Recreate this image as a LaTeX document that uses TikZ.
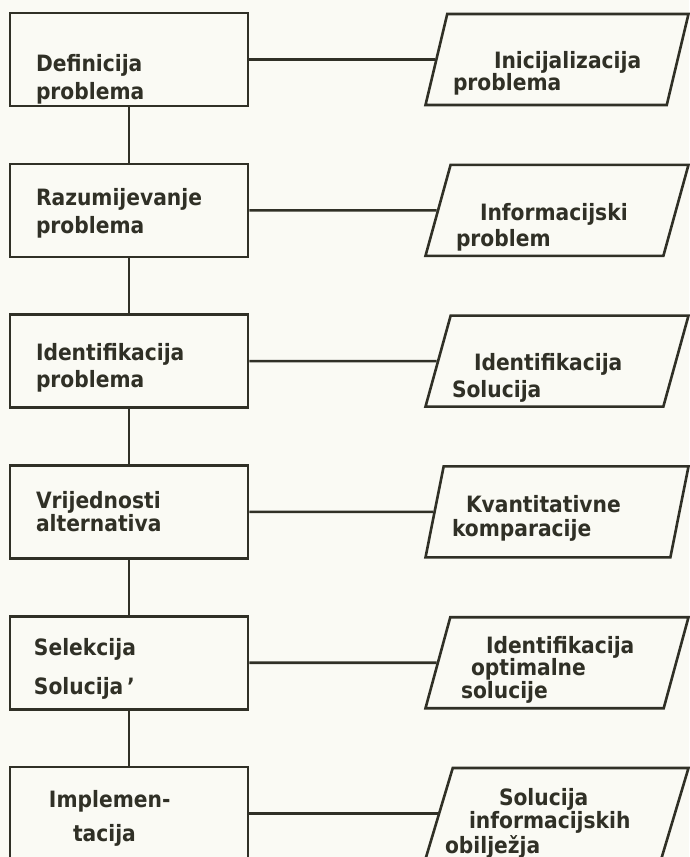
\documentclass[tikz,border=0pt]{standalone}
\usepackage{fontspec}
\setmainfont{DejaVu Sans Condensed}[BoldFont={DejaVu Sans Condensed Bold}]
\usetikzlibrary{shapes.geometric}

\definecolor{ink}{RGB}{48,48,38}
\definecolor{paper}{RGB}{250,250,244}

\begin{document}
\begin{tikzpicture}[x=1pt,y=1pt,color=ink,line width=2.6pt,node distance=150.8pt,
  every node/.style={font=\bfseries\fontsize{22.5}{21}\selectfont},
  box/.style={rectangle,draw,align=left,text width=186pt,inner xsep=26pt,
    inner ysep=0pt,minimum height=93pt,text height=27.5pt},
  data/.style={trapezium,draw,trapezium left angle=73,trapezium right angle=107,
    trapezium stretches body=true,align=left,text width=206pt,inner xsep=0pt,
    inner ysep=0pt,minimum width=263pt,minimum height=91pt,text height=27.5pt}]

  \fill[paper] (0,0) rectangle (689,-857);
  \useasboundingbox (0,0) rectangle (689,-857);

  \node[box,text height=57.5pt] (B1) at (129,-59.5) {Definicija\\[5pt]problema};
  \node[box,text height=23.5pt] (B2) [below of=B1] {Razumijevanje\\[5pt]problema};
  \node[box,text height=30.5pt] (B3) [below of=B2] {Identifikacija\\[5pt]problema};
  \node[box,text height=16.5pt] (B4) [below of=B3] {Vrijednosti\\[1pt]alternativa};
  \node[box,text height=28.5pt] (B5) [below of=B4] {\hspace*{-2pt}Selekcija\\[16pt]\hspace*{-2pt}Solucija\,'};
  \node[box,text height=26.5pt] (B6) [below of=B5] {\hspace*{13pt}Implemen-\\[11pt]\hspace*{37pt}tacija};

  \node[data,text height=44.5pt] (D1) [node distance=428pt,right of=B1] {\hspace*{40pt}Inicijalizacija\\[-1pt]\hspace*{-1pt}problema};
  \node[data,text height=51.5pt] (D2) [node distance=428pt,right of=B2] {\hspace*{26pt}Informacijski\\[3pt]\hspace*{2pt}problem};
  \node[data,text height=50.5pt] (D3) [node distance=428pt,right of=B3] {\hspace*{20pt}Identifikacija\\[4pt]\hspace*{-2pt}Solucija};
  \node[data,text height=30.5pt] (D4) [node distance=428pt,right of=B4] {\hspace*{12pt}Kvantitativne\\[3pt]\hspace*{-2pt}komparacije};
  \node[data,text height=31.5pt] (D5) [node distance=428pt,right of=B5] {\hspace*{32pt}Identifikacija\\[-1pt]\hspace*{17pt}optimalne\\[0pt]\hspace*{7pt}solucije};
  \node[data,text height=36.5pt] (D6) [node distance=428pt,right of=B6] {\hspace*{45pt}Solucija\\[0pt]\hspace*{15pt}informacijskih\\[1pt]\hspace*{-9pt}obilježja};

  \path (B1) edge (D1)
             edge (B2)
        (B2) edge (D2)
             edge (B3)
        (B3) edge (D3)
             edge (B4)
        (B4) edge (D4)
             edge (B5)
        (B5) edge (D5)
             edge (B6)
        (B6) edge (D6);
\end{tikzpicture}
\end{document}
